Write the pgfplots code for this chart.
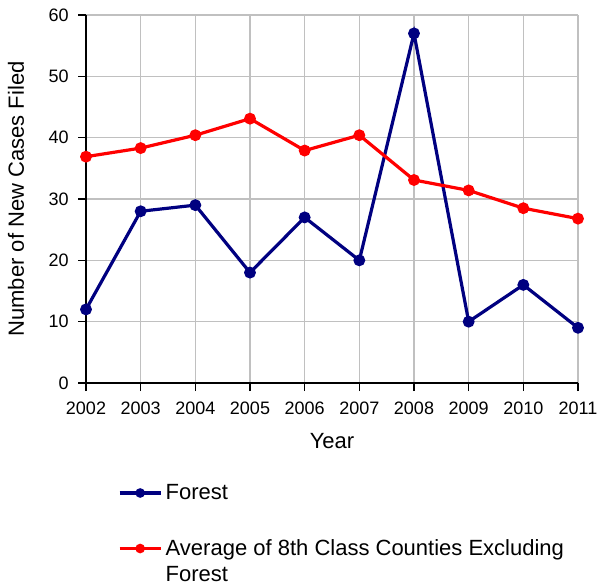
\documentclass[border=0pt]{standalone}
\usepackage{pgfplots}
\pgfplotsset{compat=1.18}
\usepackage{fontspec}
\setmainfont{Liberation Sans}
\definecolor{forestblue}{RGB}{0,0,128}
\definecolor{avgred}{RGB}{255,0,0}
\definecolor{gridgray}{RGB}{192,192,192}
\begin{document}
\begin{tikzpicture}
\begin{axis}[
  scale only axis,
  width=369pt, height=276pt,
  xmin=2002, xmax=2011, ymin=0, ymax=60,
  xtick={2002,2003,2004,2005,2006,2007,2008,2009,2010,2011},
  ytick={0,10,20,30,40,50,60},
  /pgf/number format/1000 sep={},
  /pgf/number format/assume math mode=true,
  axis x line*=bottom, axis y line*=left,
  axis line style={black, line width=1.2pt},
  x axis line style={-}, y axis line style={-},
  tick align=outside, major tick length=6pt,
  tick style={black, line width=1.1pt},
  grid=major,
  major grid style={gridgray, line width=1pt},
  tick label style={font=\fontsize{13.5}{16}\selectfont},
  xticklabel style={yshift=-4.5pt},
  yticklabel style={xshift=-3.5pt},
  xlabel={Year},
  ylabel={Number of New Cases Filed},
  label style={font=\fontsize{16.5}{19.8}\selectfont},
  xlabel style={at={(axis description cs:0.5,-0.1576)}, anchor=center},
  ylabel style={at={(axis description cs:-0.1423,0.5)}, anchor=center},
  clip=false,
  legend cell align=left,
  legend style={draw=none, fill=none, inner sep=0pt, outer sep=0pt,
    at={(axis description cs:0.065,-0.2756)}, anchor=north west,
    font=\fontsize{16.5}{19.8}\selectfont,
    row sep=28.5pt, column sep=2.5pt,
    nodes={inner sep=0pt}},
  legend image code/.code={
    \draw[#1, line width=2.3pt, mark size=2.4pt, mark repeat=2, mark phase=2]
      plot coordinates {(0pt,0pt) (15.5pt,0pt) (31pt,0pt)};},
]
\coordinate (sw) at (rel axis cs:0,0);
\addplot[color=forestblue, line width=2.4pt, mark=*, mark size=3.2pt,
  mark options={solid}] coordinates {
  (2002,12) (2003,28) (2004,29) (2005,18) (2006,27)
  (2007,20) (2008,57) (2009,10) (2010,16) (2011,9)};
\addlegendentry{Forest}
\addplot[color=avgred, line width=2.4pt, mark=*, mark size=3.2pt,
  mark options={solid}] coordinates {
  (2002,36.9) (2003,38.3) (2004,40.4) (2005,43.1) (2006,37.9)
  (2007,40.4) (2008,33.1) (2009,31.4) (2010,28.5) (2011,26.8)};
\addlegendentry{\parbox[t]{310pt}{Average of 8th Class Counties Excluding\\Forest}}
\end{axis}
\pgfresetboundingbox
\path (sw) ++(-64.5pt,-153.5pt) rectangle ++(448.5pt,440.75pt);
\end{tikzpicture}
\end{document}
